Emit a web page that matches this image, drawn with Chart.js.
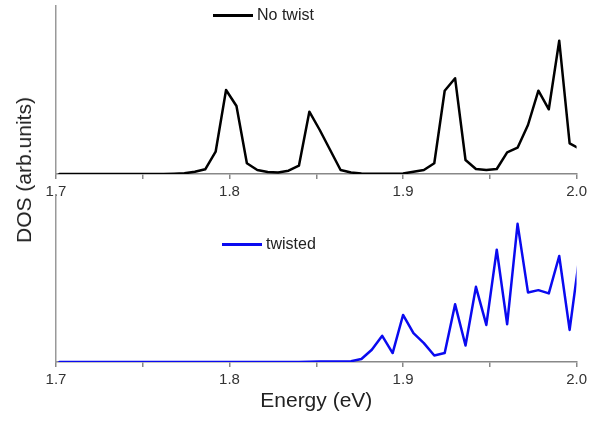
<!DOCTYPE html>
<html>
<head>
<meta charset="utf-8">
<script src="https://cdn.jsdelivr.net/npm/chart.js@4/dist/chart.umd.min.js"></script>
<style>
  html, body { margin: 0; padding: 0; background: #fff; }
  #wrap { position: relative; width: 591px; height: 421px; font-family: "Liberation Sans", Arial, sans-serif; }
  #topBox { position: absolute; left: 0; top: 0; width: 591px; height: 200px; }
  #botBox { position: absolute; left: 0; top: 190px; width: 591px; height: 231px; }
  .legend { position: absolute; font-size: 16px; color: #222; display: flex; align-items: center; }
  .legend span.line { display: inline-block; width: 40px; height: 3px; margin-right: 4px; }
  #ylabel { position: absolute; left: 24px; top: 170px; transform: translate(-50%, -50%) rotate(-90deg);
            font-size: 21px; color: #222; white-space: nowrap; }
</style>
</head>
<body>
<div id="wrap">
  <div id="topBox"><canvas id="topChart"></canvas></div>
  <div id="botBox"><canvas id="botChart"></canvas></div>
  <div class="legend" style="left:213px; top:6px;"><span class="line" style="background:#000"></span>No twist</div>
  <div class="legend" style="left:222px; top:235px;"><span class="line" style="background:#0a0af0"></span>twisted</div>
  <div id="ylabel">DOS (arb.units)</div>
</div>
<script>
// energy grid (eV)
const energy = [1.702, 1.708, 1.714, 1.720, 1.726, 1.732, 1.738, 1.744, 1.750, 1.756,
  1.762, 1.768, 1.774, 1.780, 1.786, 1.792, 1.798, 1.804, 1.810, 1.816,
  1.822, 1.828, 1.834, 1.840, 1.846, 1.852, 1.858, 1.864, 1.870, 1.876,
  1.882, 1.888, 1.894, 1.900, 1.906, 1.912, 1.918, 1.924, 1.930, 1.936,
  1.942, 1.948, 1.954, 1.960, 1.966, 1.972, 1.978, 1.984, 1.990, 1.996, 2.002];

// DOS, no twist
const dosNoTwist = [0, 0, 0, 0, 0, 0, 0, 0, 0, 0,
  0, 0.3, 0.7, 2.3, 4.7, 22.3, 84, 68, 10.7, 4,
  2, 1.5, 3.3, 8.3, 62.3, 44, 24, 4, 1.5, 0.5,
  0.3, 0.3, 0.3, 0.5, 2.3, 4, 10.7, 83.3, 95.7, 14,
  5, 4, 5, 21.7, 26.3, 49, 83.3, 64.7, 133.3, 30.7, 25];

// DOS, twisted
const dosTwisted = [0, 0, 0, 0, 0, 0, 0, 0, 0, 0,
  0, 0, 0, 0, 0, 0, 0, 0, 0, 0,
  0, 0, 0, 0, 0.3, 0.4, 0.5, 0.6, 0.8, 3,
  12.3, 26.3, 9, 47.3, 29, 19, 6.6, 9, 58, 16.6,
  75.6, 37.3, 113, 38, 139, 70, 72.3, 69, 106.6, 32.3, 111];

const xTicks = [1.7, 1.8, 1.9, 2.0];

function toPoints(ys) {
  return energy.map((e, i) => ({ x: e, y: ys[i] }));
}

function makeOptions(axisHeight, padTop, withTitle) {
  return {
    responsive: true,
    maintainAspectRatio: false,
    animation: false,
    layout: { padding: { left: 56, right: 14, top: padTop, bottom: 0 } },
    plugins: { legend: { display: false }, tooltip: { enabled: false } },
    elements: {
      point: { radius: 0 },
      line: { tension: 0, borderJoinStyle: "round", borderCapStyle: "round" },
    },
    scales: {
      x: {
        type: "linear",
        min: 1.7,
        max: 2.0,
        afterFit: (axis) => { axis.height = axisHeight; },
        ticks: {
          stepSize: 0.05,
          padding: 4,
          color: "#333",
          font: { family: "Liberation Sans", size: 15 },
          maxRotation: 0,
          callback: (v) => {
            const t = xTicks.find((k) => Math.abs(k - v) < 1e-6);
            return t !== undefined ? t.toFixed(1) : "";
          },
        },
        grid: { drawOnChartArea: false, drawTicks: true, tickLength: 5, color: "#888", lineWidth: 1.5 },
        border: { display: true, color: "#888", width: 1.5 },
        title: {
          display: withTitle,
          text: "Energy (eV)",
          color: "#222",
          font: { family: "Liberation Sans", size: 21 },
          padding: { top: 0, bottom: 7 },
        },
      },
      y: {
        min: 0,
        max: 168,
        afterFit: (axis) => { axis.width = 0; },
        ticks: { display: false },
        grid: { display: false },
        border: { display: true, color: "#999", width: 1.5 },
      },
    },
  };
}

new Chart(document.getElementById("topChart").getContext("2d"), {
  type: "line",
  data: {
    datasets: [{
      label: "No twist",
      data: toPoints(dosNoTwist),
      borderColor: "#000",
      borderWidth: 2.5,
      fill: false,
    }],
  },
  options: makeOptions(26, 6, false),
});

new Chart(document.getElementById("botChart").getContext("2d"), {
  type: "line",
  data: {
    datasets: [{
      label: "twisted",
      data: toPoints(dosTwisted),
      borderColor: "#0a0af0",
      borderWidth: 2.5,
      fill: false,
    }],
  },
  options: makeOptions(59, 5, true),
});
</script>
</body>
</html>
